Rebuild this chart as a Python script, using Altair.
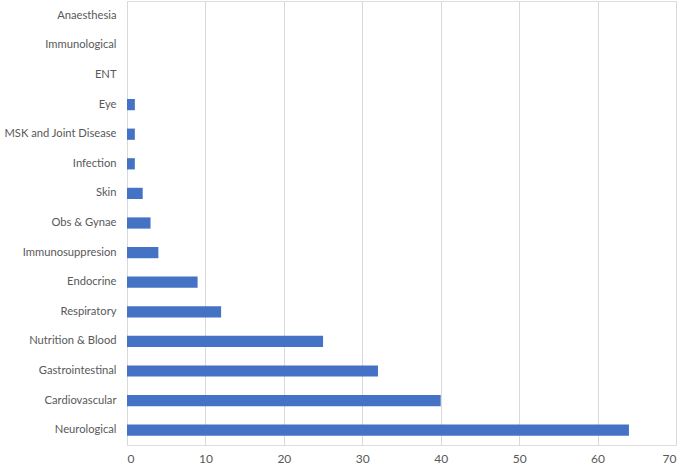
import altair as alt
import pandas as pd

categories = ["Anaesthesia", "Immunological", "ENT", "Eye", "MSK and Joint Disease",
              "Infection", "Skin", "Obs & Gynae", "Immunosuppresion", "Endocrine",
              "Respiratory", "Nutrition & Blood", "Gastrointestinal", "Cardiovascular",
              "Neurological"]
values = [0, 0, 0, 1, 1, 1, 2, 3, 4, 9, 12, 25, 32, 40, 64]
x_ticks = [0, 10, 20, 30, 40, 50, 60, 70]

df = pd.DataFrame({"category": categories, "value": values})

chart = alt.Chart(df).mark_bar(color="#4472C4").encode(
    x=alt.X("value:Q", scale=alt.Scale(domain=[0, 70], nice=False),
            axis=alt.Axis(values=x_ticks, title=None, domain=False, ticks=False,
                          grid=True, gridColor="#d9d9d9", gridWidth=1,
                          labelColor="#595959", labelFontSize=12, labelFont="Lato",
                          labelPadding=8)),
    y=alt.Y("category:N", sort=categories,
            scale=alt.Scale(paddingInner=0.62, paddingOuter=0.31),
            axis=alt.Axis(title=None, domain=False, ticks=False, grid=False,
                          labelColor="#595959", labelFontSize=11.2, labelFont="Lato",
                          labelPadding=11, labelLimit=200)),
).properties(
    width=549, height=444,
    autosize=alt.AutoSizeParams(type="none"),
    padding={"left": 127, "top": 1, "right": 9, "bottom": 21},
).configure_view(stroke=None).configure(background="white")

chart.save("out.html", embed_options={"renderer": "svg", "actions": False})
